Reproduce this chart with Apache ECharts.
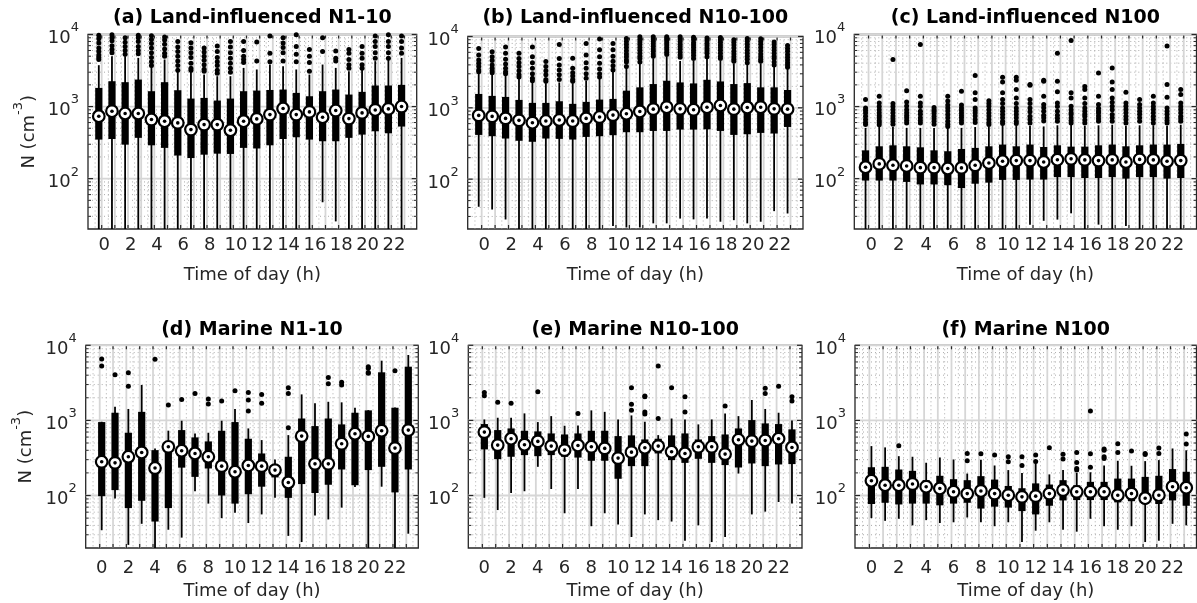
<!DOCTYPE html>
<html><head><meta charset="utf-8">
<script src="https://cdn.jsdelivr.net/npm/echarts@6/dist/echarts.min.js"></script>
<style>html,body{margin:0;padding:0;background:#fff}#c{width:1197px;height:603px}</style>
</head><body><div id="c"></div>
<script>
// ---------- shared axes ----------
const hours = [0,1,2,3,4,5,6,7,8,9,10,11,12,13,14,15,16,17,18,19,20,21,22,23];
const xTickLabels = ['0','2','4','6','8','10','12','14','16','18','20','22'];
const yMajorValues = [100, 1000, 10000];
const yMinorValues = [30,40,50,60,70,80,90,200,300,400,500,600,700,800,900,2000,3000,4000,5000,6000,7000,8000,9000];
const titles = ['(a) Land-influenced N1-10','(b) Land-influenced N10-100','(c) Land-influenced N100',
                '(d) Marine N1-10','(e) Marine N10-100','(f) Marine N100'];

// ---------- (a) Land-influenced N1-10 ----------
const a_lo  = [12,12,12,12,12,12,12,12,12,12,12,12,12,12,12,12,12,47,25.5,12,12,12,12,12];
const a_q1  = [348,355,296,368,290,267,209,193,215,222,220,267,262,290,355,375,348,330,330,368,408,454,426,528];
const a_med = [735,863,800,800,660,626,593,479,562,562,469,626,674,774,938,774,843,711,880,681,817,898,928,1000];
const a_q3  = [1815,2248,2180,2370,1634,2180,1686,1291,1319,1212,1291,1634,1667,1700,1723,1548,1391,1634,1723,1468,1600,1960,1960,2000];
const a_hi  = [3750,5000,5000,4740,3630,4500,3100,3100,2780,2640,2640,3440,3270,3830,3630,3270,2780,3830,3440,3100,3270,4270,4500,4740];
const a_out = [
 [9800,8700,7600,6500,5800,5200,4800,4500],[9900,9000,8200,7000,6200,5600],[9000,7800,6800,6000,5300],
 [9800,9000,8000,6800,6000,5400],[9600,8500,7500,6500,5600,4800,4200,3700],[9200,8400,7300,6300,5500,5000],
 [8000,6700,5800,5000,4300,3700,3200],[7700,6500,5600,4800,4000,3400,3200],[6500,5700,5000,4400,3800,3300,3100],
 [6900,5800,4800,4200,3700,3200,2900],[8000,6700,5600,4700,4000,3400,3000],[8000,6000,5000,4500,4100],
 [7900,4300],[9500,5500,4200],[9000,7600,6600,5600,4300],[9900,6800,5300,4200],[6200,5000,4100,3100],
 [9000,5800],[5900,4700,4300],[6200,5500,4500,3800,3400],[6800,5500,4700,3800,3400],
 [9500,8000,6800,5600,4700],[9900,8000,6800,5600,4700],[9500,8000,6500,5500]
];

// ---------- (b) Land-influenced N10-100 ----------
const b_lo  = [41,37.5,27.2,12,12,12,12,12,12,12,22,21,21,24,24,28,27.3,28,25.3,26.6,24,25.3,35.6,33];
const b_q1  = [417,400,371,345,334,371,367,359,391,400,413,455,455,474,474,495,495,500,474,417,426,445,436,539];
const b_med = [783,758,711,667,619,652,674,652,711,742,791,825,889,958,1021,968,938,1021,1077,958,1011,1021,968,958];
const b_q3  = [1565,1470,1422,1291,1173,1173,1237,1137,1212,1305,1334,1740,1937,2154,2397,2272,2200,2473,2344,2154,2221,1937,1937,1778];
const b_hi  = [3060,2900,2900,2610,2345,2220,2270,2220,2400,2550,3230,3670,4200,4950,5200,4540,4540,4950,4540,4200,4080,4200,3790,3590];
const b_out = [
 [6800,5500,4700,4200,3800,3400,3200],[6100,5200,4600,4000,3600,3300,3100],[7100,5800,4800,4100,3600,3200,3000],
 [5800,4900,4300,3800,3300,2900,2700],[7100,5200,4300,3600,3000,2600,2400],[4450,3800,3300,2900,2500,2350],
 [7700,4900,4000,3400,2900,2500],[4950,3600,3100,2800,2500,2350],[8000,5500,4300,3600,3000,2600],
 [9200,6500,5200,4200,3500,3000,2700],[8000,6500,5300,4500,3900,3400],
 [9400,8500,7700,7000,6300,5700,5200,4700,4400,3800],[9900,9100,8400,7700,7000,6400,5800,5300,4900,4400],
 [9900,9200,8600,7900,7300,6700,6200,5700,5300],[9900,9400,8800,8200,7600,7000,6500,6000,5600],
 [9900,9200,8500,7800,7200,6600,6000,5500,5100],[9800,9000,8200,7600,7000,6400,5900,5400,4900],
 [9500,8700,8000,7400,6800,6300,5800,5200],[9700,9000,8300,7600,7000,6400,5800,5300,4900],
 [9000,8300,7600,6900,6200,5700,5200,4800,4500],[9400,8600,7800,7100,6400,5800,5300,4800,4300],
 [9300,8500,7800,7000,6300,5700,5200,4800,4500],[8400,7700,7000,6400,5800,5300,4900,4400,4000],
 [7500,6800,6200,5600,5100,4700,4300,4000,3700]
];

// ---------- (c) Land-influenced N100 ----------
const c_lo  = [12,12,12,12,12,12,12,12,12,12,12,12,23,26,27,33,12,23,12,22,12,12,12,12];
const c_q1  = [94,94,94,90,83,83,81,74,85,88,96,96,97,97,105,105,102,102,105,100,105,105,100,102];
const c_med = [144,160,153,150,142,142,138,141,153,165,174,178,178,170,183,188,182,178,182,170,185,182,174,178];
const c_q3  = [247,281,290,281,272,247,240,258,267,281,297,281,297,275,290,278,278,290,297,281,290,297,297,303];
const c_hi  = [506,530,520,506,506,506,510,506,520,530,550,550,540,530,550,560,540,550,560,540,550,550,540,560];
const c_out = [
 [1250,958,880,815,735,660,600,562],[1390,1120,1000,900,820,750,700,640,600,560],[4500,1100,1000,900,820,740,680,626,570],
 [1660,1160,1020,900,820,750,700,640,590],[7260,1390,1120,1000,860,780,700,640,590],[970,900,860,800,735,680,626,570],
 [1390,1190,1050,958,870,774,700,626,570,530],[1630,1050,958,880,816,750,697,640,590],[2700,1560,1250,958,880,816,740,660,600],
 [1200,1100,1010,900,816,740,660,600,562],[2550,2200,1560,1250,1100,958,860,774,700,626,580],
 [2550,2320,1720,1319,1100,958,860,774,700,626,580],[2020,1980,1250,1100,958,850,735,660,593],
 [2320,2250,1390,1066,960,861,760,700,630],[5500,2250,1600,1125,1000,861,760,690,626],
 [8260,1560,1320,1010,900,820,774,700,640,593],[1900,1720,1319,1100,958,860,780,735,650,593],
 [2930,1390,1066,950,870,816,740,680,626],[3440,2200,1720,1319,1150,1010,900,774,700,626],
 [1580,1125,1010,908,820,735,660,593],[1250,1066,958,861,780,697,626],[1390,1125,1000,908,820,735,660,593],
 [6900,2020,1350,958,860,780,697,640,593],[1720,1470,1125,1000,908,820,735,680,626]
];

// ---------- (d) Marine N1-10 ----------
const d_lo  = [34.5,91,22,42,12,35,27.5,114,78,50,59,43,56,93,29,24,54,48,69,130,12,131,12,31];
const d_q1  = [98,118,68,85,45,68,235,177,229,100,78,104,131,174,93,142,108,139,222,137,218,241,110,222];
const d_med = [281,272,328,374,232,445,394,363,328,246,207,251,246,218,149,618,264,264,488,664,612,728,428,743];
const d_q3  = [950,1265,685,1300,402,520,743,594,525,728,950,570,363,241,328,1060,840,1060,885,1265,1360,4370,1475,5190];
const d_hi  = [960,1520,1420,2960,423,730,990,671,685,990,1420,782,547,302,637,2220,1690,1770,1740,1475,1370,6240,1480,7430];
const d_out = [
 [6580,5300],[4060],[4320,2840],[],[6500],[1600],[1900],[2290],[1925,1650],[1810],[2490],[2360,1870,1330],
 [2220,1690],[],[2730,2290,800],[],[],[3740,3080],[3210,2960],[],[5190,4930,4350,4230],[],[4590],[]
];

// ---------- (e) Marine N10-100 ----------
const e_lo  = [93,64,108,114,241,122,58,122,39,58,41,28,56,47,45,25,40,24,28,196,56,61,82,78];
const e_q1  = [411,305,328,345,334,345,328,320,290,290,167,246,246,363,296,272,308,272,254,236,267,246,259,262];
const e_med = [699,469,570,474,525,455,402,464,445,424,315,378,432,455,382,363,445,445,356,552,530,541,570,436];
const e_q3  = [894,743,782,728,714,671,650,671,728,728,618,632,558,570,632,671,558,618,650,782,1010,912,894,760];
const e_hi  = [1030,1085,1085,1240,950,1140,849,858,1360,1300,1030,1165,960,637,1060,1030,885,1030,1240,1140,1870,1420,1265,1000];
const e_out = [
 [2130,2360],[1740],[1690],[],[2410],[],[],[1240],[],[],[],[2730,1635,1370],[2110,2070,1290,1215],
 [5300,1060],[2730],[2070,1290],[],[],[1550],[],[],[2670,2290],[2860],[2070,1810]
];

// ---------- (f) Marine N100 ----------
const f_lo  = [50,46,49,40,47,43,44,51,44,39,44,24,34,44,35,33,49,39,35,39,24,25,42,40];
const f_q1  = [77,80,76,78,78,74,78,80,67,71,69,62,56,73,86,87,87,87,81,84,77,77,86,73];
const f_med = [157,137,137,142,131,124,112,106,115,106,101,96,98,106,118,112,112,112,101,106,92,101,131,127];
const f_q3  = [238,241,222,213,160,183,165,160,181,163,134,125,145,140,160,137,152,152,168,168,177,183,225,207];
const f_hi  = [455,437,334,328,273,321,302,196,300,251,218,200,270,191,218,200,204,251,290,249,287,296,423,400];
const f_out = [
 [],[],[459],[],[],[],[],[363,290],[360],[345],[328,281],[328,251],[345,284],[432],[353,306],
 [375,275,229,218],[1330,360,238],[415,400,328,312],[488,375],[390],[363,352],[428,363],[],[657,484]
];

// ---------- layout (pixels) ----------
const FONT = 'DejaVu Sans';
const TXT = '#262626';
const YMIN = 20, YMAX = 10000;
const layout = [
 {left:88,    top:34.5,  width:328.7, height:194.5, xr:[-0.82,24.15], tickOff:0.22,  labOff:0.42, labMargin:7.5, nameGap:37,   titleTop:9,     yName:true},
 {left:467.7, top:36.5,  width:335.3, height:192.5, xr:[-0.82,24.15], tickOff:0.22,  labOff:0.42, labMargin:7.5, nameGap:37,   titleTop:9,     yName:false},
 {left:854.3, top:34.5,  width:342.2, height:194.5, xr:[-0.82,24.15], tickOff:0.22,  labOff:0.42, labMargin:7.5, nameGap:37,   titleTop:9,     yName:false},
 {left:85.7,  top:345.3, width:332.6, height:202.7, xr:[-1.2,23.75],  tickOff:-0.15, labOff:0,    labMargin:11,  nameGap:34.5, titleTop:320.5, yName:true},
 {left:468.3, top:345.3, width:333.7, height:202.7, xr:[-1.2,23.75],  tickOff:-0.15, labOff:0,    labMargin:11,  nameGap:34.5, titleTop:320.5, yName:false},
 {left:855,   top:345.3, width:341.5, height:202.7, xr:[-1.2,23.75],  tickOff:-0.15, labOff:0,    labMargin:11,  nameGap:34.5, titleTop:320.5, yName:false}
];
const stats = [
 [a_lo,a_q1,a_med,a_q3,a_hi,a_out],[b_lo,b_q1,b_med,b_q3,b_hi,b_out],[c_lo,c_q1,c_med,c_q3,c_hi,c_out],
 [d_lo,d_q1,d_med,d_q3,d_hi,d_out],[e_lo,e_q1,e_med,e_q3,e_hi,e_out],[f_lo,f_q1,f_med,f_q3,f_hi,f_out]
];

const rich = {
  b: {fontFamily: FONT, fontSize: 18, color: TXT, lineHeight: 26, verticalAlign: 'bottom'},
  s: {fontFamily: FONT, fontSize: 13, color: TXT, lineHeight: 13, verticalAlign: 'top'}
};
function fmtY(v) {
  const l = Math.log10(v), e = Math.round(l);
  if (Math.abs(l - e) > 1e-6) return '';
  return '{b|10}{s|' + e + '}';
}

const option = {animation: false, backgroundColor: '#fff', title: [], grid: [], xAxis: [], yAxis: [], series: []};

layout.forEach((L, i) => {
  const [lo, q1, med, q3, hi, out] = stats[i];
  option.grid.push({left: L.left, top: L.top, width: L.width, height: L.height, show: true,
    borderColor: TXT, borderWidth: 1.3, backgroundColor: 'transparent'});
  option.title.push({text: titles[i], left: L.left + L.width / 2, top: L.titleTop, textAlign: 'center', padding: 0,
    textStyle: {fontFamily: FONT, fontSize: 19, fontWeight: 'bold', color: '#000'}});
  const labelHours = hours.filter(h => h % 2 === 0);
  option.xAxis.push({type: 'value', gridIndex: i, min: L.xr[0], max: L.xr[1],
    axisLine: {show: false}, splitLine: {show: false}, axisTick: {show: false},
    axisLabel: {customValues: labelHours.map(h => h + L.labOff),
      formatter: v => xTickLabels[Math.round((v - L.labOff) / 2)],
      margin: L.labMargin, color: TXT, fontFamily: FONT, fontSize: 18, hideOverlap: false},
    name: 'Time of day (h)', nameLocation: 'middle', nameGap: L.nameGap,
    nameTextStyle: {fontFamily: FONT, fontSize: 18, color: TXT}});
  option.yAxis.push({type: 'log', logBase: 10, gridIndex: i, min: YMIN, max: YMAX,
    axisLine: {show: false}, axisTick: {show: false}, splitLine: {show: false},
    axisLabel: {formatter: fmtY, margin: 9, rich: rich},
    name: L.yName ? '{b|N (cm}{s|-3}{b|)}' : '', nameLocation: 'middle', nameRotate: 90, nameGap: 50,
    nameTextStyle: {rich: rich}});

  const vmaj = hours.map(h => h + L.tickOff);
  const vmin = [hours[0] + L.tickOff - 0.5].concat(hours.map(h => h + L.tickOff + 0.5))
                 .filter(p => p > L.xr[0] && p < L.xr[1]);
  // minor dotted grid (vertical)
  option.series.push({type: 'custom', xAxisIndex: i, yAxisIndex: i, silent: true, z: 1,
    data: vmin.map(p => [p, 1000]),
    renderItem: (params, api) => {
      const cs = params.coordSys; const x = api.coord([api.value(0), 1000])[0];
      return {type: 'line', shape: {x1: x, y1: cs.y, x2: x, y2: cs.y + cs.height},
        style: {stroke: '#ababab', lineWidth: 1, lineDash: [1, 3]}};
    }});
  // minor dotted grid (horizontal) + minor ticks
  option.series.push({type: 'custom', xAxisIndex: i, yAxisIndex: i, silent: true, z: 1,
    data: yMinorValues.map(v => [0, v]),
    renderItem: (params, api) => {
      const cs = params.coordSys; const y = api.coord([0, api.value(1)])[1];
      return {type: 'group', children: [
        {type: 'line', shape: {x1: cs.x, y1: y, x2: cs.x + cs.width, y2: y}, style: {stroke: '#ababab', lineWidth: 1, lineDash: [1, 3]}},
        {type: 'line', shape: {x1: cs.x, y1: y, x2: cs.x + 3, y2: y}, style: {stroke: TXT, lineWidth: 1}},
        {type: 'line', shape: {x1: cs.x + cs.width - 3, y1: y, x2: cs.x + cs.width, y2: y}, style: {stroke: TXT, lineWidth: 1}}
      ]};
    }});
  // major grid (vertical) + x ticks
  option.series.push({type: 'custom', xAxisIndex: i, yAxisIndex: i, silent: true, z: 2,
    data: vmaj.map(p => [p, 1000]),
    renderItem: (params, api) => {
      const cs = params.coordSys; const x = api.coord([api.value(0), 1000])[0];
      return {type: 'group', children: [
        {type: 'line', shape: {x1: x, y1: cs.y, x2: x, y2: cs.y + cs.height}, style: {stroke: '#d6d6d6', lineWidth: 1.8}},
        {type: 'line', shape: {x1: x, y1: cs.y + cs.height, x2: x, y2: cs.y + cs.height - 4}, style: {stroke: TXT, lineWidth: 1.2}},
        {type: 'line', shape: {x1: x, y1: cs.y, x2: x, y2: cs.y + 4}, style: {stroke: TXT, lineWidth: 1.2}}
      ]};
    }});
  // major grid (horizontal) + major ticks
  option.series.push({type: 'custom', xAxisIndex: i, yAxisIndex: i, silent: true, z: 2,
    data: yMajorValues.map(v => [0, v]),
    renderItem: (params, api) => {
      const cs = params.coordSys; const y = api.coord([0, api.value(1)])[1];
      return {type: 'group', children: [
        {type: 'line', shape: {x1: cs.x, y1: y, x2: cs.x + cs.width, y2: y}, style: {stroke: '#d6d6d6', lineWidth: 1.8}},
        {type: 'line', shape: {x1: cs.x, y1: y, x2: cs.x + 5, y2: y}, style: {stroke: TXT, lineWidth: 1.2}},
        {type: 'line', shape: {x1: cs.x + cs.width - 5, y1: y, x2: cs.x + cs.width, y2: y}, style: {stroke: TXT, lineWidth: 1.2}}
      ]};
    }});
  // boxes
  option.series.push({type: 'custom', xAxisIndex: i, yAxisIndex: i, silent: true, z: 5,
    encode: {x: 0, y: [1, 2, 3, 4, 5]},
    data: hours.map((h, k) => [h, lo[k], q1[k], med[k], q3[k], hi[k]]),
    renderItem: (params, api) => {
      const x = api.value(0);
      const pLo = api.coord([x, Math.max(api.value(1), YMIN)]);
      const pHi = api.coord([x, Math.min(api.value(5), YMAX)]);
      const p1 = api.coord([x, api.value(2)]);
      const pm = api.coord([x, api.value(3)]);
      const p3 = api.coord([x, api.value(4)]);
      return {type: 'group', children: [
        {type: 'line', shape: {x1: pLo[0], y1: pLo[1], x2: pHi[0], y2: pHi[1]}, style: {stroke: '#000', lineWidth: 1.8}},
        {type: 'rect', shape: {x: p1[0] - 3.6, y: p3[1], width: 7.2, height: p1[1] - p3[1]}, style: {fill: '#000'}},
        {type: 'circle', shape: {cx: pm[0], cy: pm[1], r: 5.8}, style: {fill: '#fff', stroke: '#000', lineWidth: 2.2}},
        {type: 'circle', shape: {cx: pm[0], cy: pm[1], r: 1.8}, style: {fill: '#000'}}
      ]};
    }});
  // outliers
  const od = [];
  out.forEach((arr, k) => arr.forEach(v => od.push([hours[k], v])));
  option.series.push({type: 'scatter', xAxisIndex: i, yAxisIndex: i, silent: true, z: 6,
    symbol: 'circle', symbolSize: 5, itemStyle: {color: '#000', opacity: 1}, data: od});
});

const chart = echarts.init(document.getElementById('c'), null, {renderer: 'canvas'});
chart.setOption(option);
</script></body></html>
